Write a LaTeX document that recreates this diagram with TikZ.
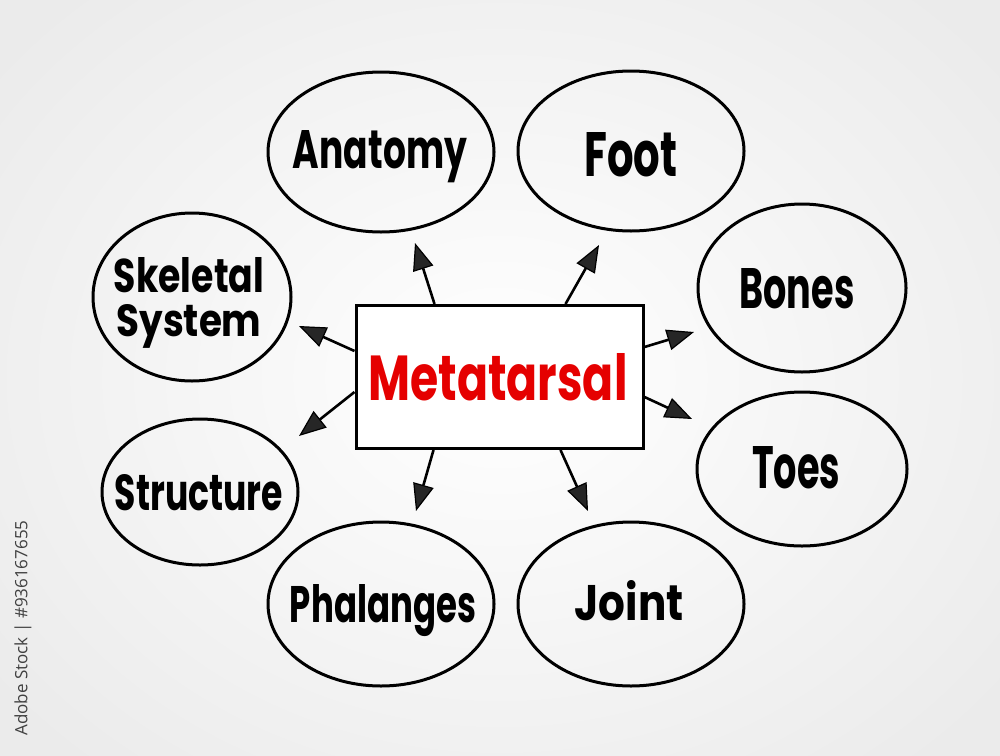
\documentclass[tikz,border=0pt]{standalone}
\usepackage{fontspec}
\usepackage{graphicx}
\setmainfont{Poppins}
\newfontfamily\wmfont{Open Sans}
\usetikzlibrary{arrows.meta}
\newcommand\mmlabel[3]{\resizebox{#1pt}{#2pt}{\bfseries #3}}
\tikzset{
  bubble/.style={draw=black, line width=3pt},
  word/.style={anchor=base, inner sep=0pt, text=black},
  centrebox/.style={draw=black, line width=3pt, fill=white, minimum width=287pt, minimum height=143pt, inner sep=0pt},
  link/.style={line width=2.6pt, draw=black, -{Triangle[length=27pt,width=21pt,line width=1.2pt,fill=black!85]}},
}
\begin{document}
\begin{tikzpicture}[x=1pt,y=-1pt]
\useasboundingbox (0,0) rectangle (1000,755);
\shade[inner color=white, outer color=black!8] (-150,-150) rectangle (1150,905);
% watermark id
\node[rotate=90, text=black!75, inner sep=0pt] (wm) at (23,628) {\resizebox{215pt}{!}{\wmfont Adobe Stock | \#936167655}};
% bubbles
\draw[bubble] (381,152) ellipse [x radius=113, y radius=80];
\draw[bubble] (631,151) ellipse [x radius=113, y radius=80];
\draw[bubble] (192,297) ellipse [x radius=99, y radius=84];
\draw[bubble] (802,288) ellipse [x radius=104, y radius=84];
\draw[bubble] (200,492) ellipse [x radius=98, y radius=73];
\draw[bubble] (802,469) ellipse [x radius=105, y radius=77];
\draw[bubble] (381,604) ellipse [x radius=113, y radius=82];
\draw[bubble] (631,604) ellipse [x radius=113, y radius=82];
% labels
\node[word] (anatomy) at (380,168) {\mmlabel{174}{38}{Anatomy}};
\node[word] (foot) at (631,176) {\mmlabel{93}{44}{Foot}};
\node[word] (skeletal) at (189,292) {\begin{tabular}[t]{@{}c@{}}\mmlabel{150}{35}{Skeletal}\\[9pt]\mmlabel{145}{32}{System}\end{tabular}};
\node[word] (bones) at (797,308) {\mmlabel{115}{40}{Bones}};
\node[word] (toes) at (796,488) {\mmlabel{88}{42}{Toes}};
\node[word] (structure) at (199,510) {\mmlabel{168}{36}{Structure}};
\node[word] (phalanges) at (383,622) {\mmlabel{186}{38}{Phalanges}};
\node[word] (joint) at (629,620) {\mmlabel{109}{40}{Joint}};
% centre
\node[centrebox] (box) at (499.5,377) {};
\node[word] (meta) at (498,400) {\resizebox{259pt}{47pt}{\bfseries\color{red!90!black}Metatarsal}};
% arrow tips
\coordinate (tA) at (415,243);
\coordinate (tF) at (599,245);
\coordinate (tS) at (299,326);
\coordinate (tB) at (694,332);
\coordinate (tT) at (692,419);
\coordinate (tR) at (299,436);
\coordinate (tP) at (416,511);
\coordinate (tJ) at (588,511);
\draw[link] (box.north west) ++(80,0) coordinate (sA) -- (tA);
\draw[link] (box.north west) ++(211,0) coordinate (sF) -- (tF);
\draw[link] (box.north west) ++(0,47) coordinate (sS) -- (tS);
\draw[link] (box.north east) ++(0,43) coordinate (sB) -- (tB);
\draw[link] (box.north east) ++(0,93) coordinate (sT) -- (tT);
\draw[link] (box.north west) ++(0,88) coordinate (sR) -- (tR);
\draw[link] (box.south west) ++(79,0) coordinate (sP) -- (tP);
\draw[link] (box.south west) ++(206,0) coordinate (sJ) -- (tJ);
\end{tikzpicture}
\end{document}
